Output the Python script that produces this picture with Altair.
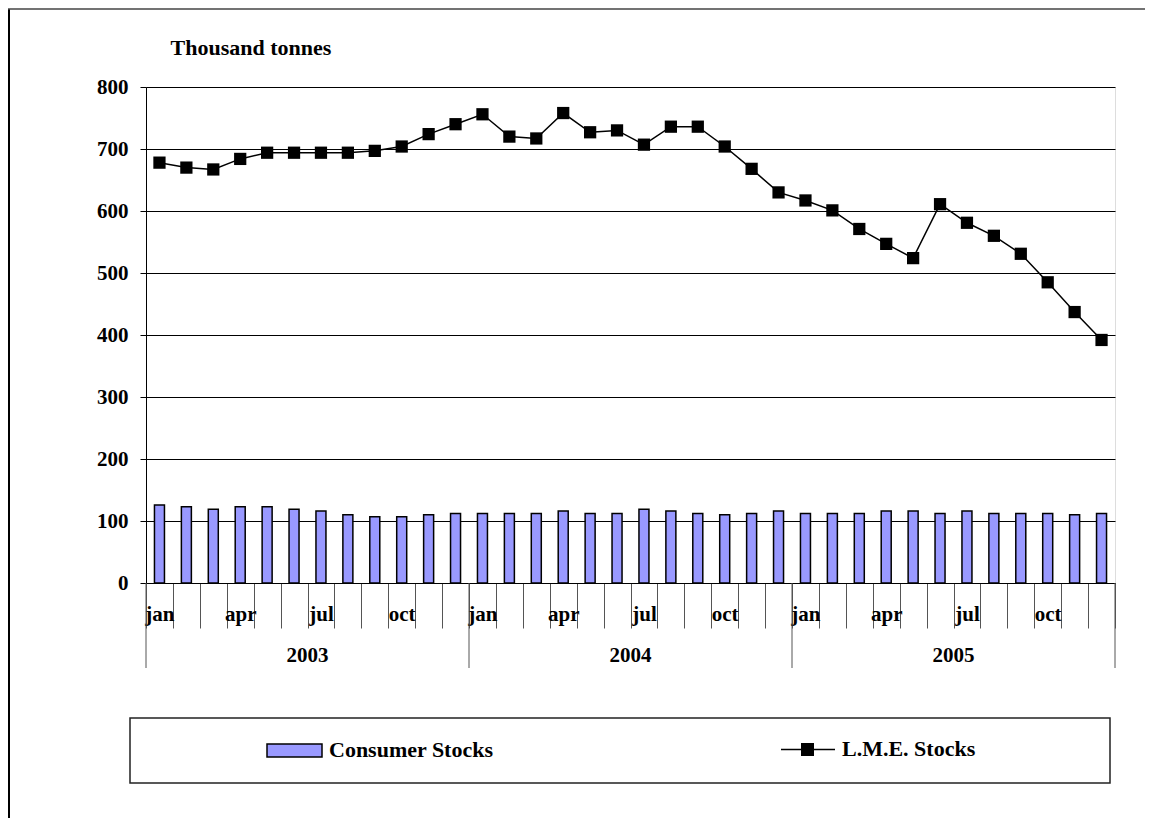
import altair as alt
import pandas as pd

# ---------------- data ----------------
years = [2003, 2004, 2005]
month_names = ["jan", "feb", "mar", "apr", "may", "jun",
               "jul", "aug", "sep", "oct", "nov", "dec"]
shown_months = ["jan", "apr", "jul", "oct"]
series_names = ["Consumer Stocks", "L.M.E. Stocks"]

consumer_stocks = [126, 123, 119, 123, 123, 119, 116, 110, 107, 107, 110, 112,
                   112, 112, 112, 116, 112, 112, 119, 116, 112, 110, 112, 116,
                   112, 112, 112, 116, 116, 112, 116, 112, 112, 112, 110, 112]
lme_stocks = [678, 670, 667, 684, 694, 694, 694, 694, 697, 704, 724, 740,
              756, 720, 717, 758, 727, 730, 707, 736, 736, 704, 668, 630,
              617, 601, 571, 547, 524, 611, 581, 560, 531, 485, 437, 392]
y_ticks = [0, 100, 200, 300, 400, 500, 600, 700, 800]

periods = [f"{y}-{m + 1:02d}" for y in years for m in range(12)]
df = pd.DataFrame({
    "period": periods,
    "month": [month_names[i % 12] for i in range(len(periods))],
    "consumer": consumer_stocks,
    "lme": lme_stocks,
})

W, H = 969, 496
FONT = "Liberation Serif"
FS = 21
FS_BIG = 22

# label expression: only jan/apr/jul/oct shown
parts = []
for mn in shown_months:
    code = f"{month_names.index(mn) + 1:02d}"
    parts.append(f"substring(datum.value,5,7)=='{code}' ? '{mn}' : ")
label_expr = "".join(parts) + "''"

x_scale = alt.Scale(domain=periods, paddingInner=0, paddingOuter=0)
x_axis = alt.Axis(title=None, labelExpr=label_expr, labelAngle=0, tickBand="extent",
                  tickSize=45, tickColor="#555555", tickWidth=1,
                  labelPadding=-25, labelBaseline="top", labelFont=FONT,
                  labelFontSize=FS, labelFontWeight="bold", labelColor="black",
                  domainColor="black", domainWidth=1, labelOverlap=False)
y_scale = alt.Scale(domain=[0, 800], nice=False)
y_axis = alt.Axis(values=y_ticks, format="d", title="Thousand tonnes", titleAngle=0,
                  titleAlign="left", titleBaseline="alphabetic", titleX=24, titleY=-33,
                  titleFont=FONT, titleFontSize=FS_BIG, titleFontWeight="bold", titleColor="black",
                  grid=True, gridColor="black", gridWidth=1, tickSize=6, tickColor="black",
                  labelPadding=12, labelFont=FONT, labelFontSize=FS, labelFontWeight="bold",
                  labelColor="black", labelBaseline="middle", domainColor="black")

base = alt.Chart(df)
bars = base.mark_bar(size=10, fill="#9999FF", stroke="black", strokeWidth=1.5).encode(
    x=alt.X("period:O", scale=x_scale, axis=x_axis),
    y=alt.Y("consumer:Q", scale=y_scale, axis=y_axis),
)
line = base.mark_line(color="black", strokeWidth=1.5).encode(
    x=alt.X("period:O"),
    y=alt.Y("lme:Q", scale=y_scale, axis=y_axis),
)
points = base.mark_point(shape="square", filled=True, size=150, color="black", opacity=1).encode(
    x=alt.X("period:O"),
    y=alt.Y("lme:Q", scale=y_scale, axis=y_axis),
)

# year separators and labels
year_start = pd.DataFrame({"period": [periods[0]]})
year_end = pd.DataFrame({"period": [f"{y}-12" for y in years]})
year_mid = pd.DataFrame({"period": [f"{y}-07" for y in years], "year": [str(y) for y in years]})

rule_start = alt.Chart(year_start).mark_rule(color="#555555", strokeWidth=1).encode(
    x=alt.X("period:O", bandPosition=0), y=alt.value(H), y2=alt.value(H + 85))
rule_end = alt.Chart(year_end).mark_rule(color="#555555", strokeWidth=1).encode(
    x=alt.X("period:O", bandPosition=1), y=alt.value(H), y2=alt.value(H + 85))
year_text = alt.Chart(year_mid).mark_text(font=FONT, fontSize=FS, fontWeight="bold",
                                          color="black", align="center",
                                          baseline="alphabetic").encode(
    x=alt.X("period:O", bandPosition=0), y=alt.value(H + 78.5), text="year:N")

# legend (drawn)
one = pd.DataFrame({"k": [0]})
leg1 = pd.DataFrame({"label": [series_names[0]]})
leg2 = pd.DataFrame({"label": [series_names[1]]})
legend_box = alt.Chart(one).mark_rect(fill="white", stroke="#222222", strokeWidth=1.5).encode(
    x=alt.value(-16), x2=alt.value(964), y=alt.value(631), y2=alt.value(696))
sw1 = alt.Chart(one).mark_rect(fill="#9999FF", stroke="black", strokeWidth=1.5).encode(
    x=alt.value(121), x2=alt.value(176), y=alt.value(657), y2=alt.value(670))
txt1 = alt.Chart(leg1).mark_text(font=FONT, fontSize=FS_BIG, fontWeight="bold", color="black",
                                 align="left", baseline="alphabetic").encode(
    x=alt.value(183), y=alt.value(670), text="label:N")
sw2_line = alt.Chart(one).mark_rule(color="black", strokeWidth=1.5).encode(
    x=alt.value(635), x2=alt.value(689), y=alt.value(662.5))
sw2_pt = alt.Chart(one).mark_point(shape="square", filled=True, size=170, color="black",
                                   opacity=1).encode(x=alt.value(661.5), y=alt.value(662.5))
txt2 = alt.Chart(leg2).mark_text(font=FONT, fontSize=FS_BIG, fontWeight="bold", color="black",
                                 align="left", baseline="alphabetic").encode(
    x=alt.value(696), y=alt.value(669), text="label:N")

# outer frame (left and top edges)
frame_left = alt.Chart(one).mark_rule(color="black", strokeWidth=2).encode(
    x=alt.value(-137), y=alt.value(-78), y2=alt.value(800))
frame_top = alt.Chart(one).mark_rule(color="#444444", strokeWidth=1.5).encode(
    x=alt.value(-138), x2=alt.value(1100), y=alt.value(-78))

chart = alt.layer(
    bars, line, points, rule_start, rule_end, year_text,
    legend_box, sw1, txt1, sw2_line, sw2_pt, txt2, frame_left, frame_top
).properties(
    width=W, height=H,
    padding={"left": 138, "top": 79, "right": 30, "bottom": 235},
    autosize=alt.AutoSizeParams(type="none"),
).configure_view(
    stroke="#808080", strokeWidth=1
).configure(background="white")

chart.save("out.html", embed_options={"renderer": "svg", "actions": False})
